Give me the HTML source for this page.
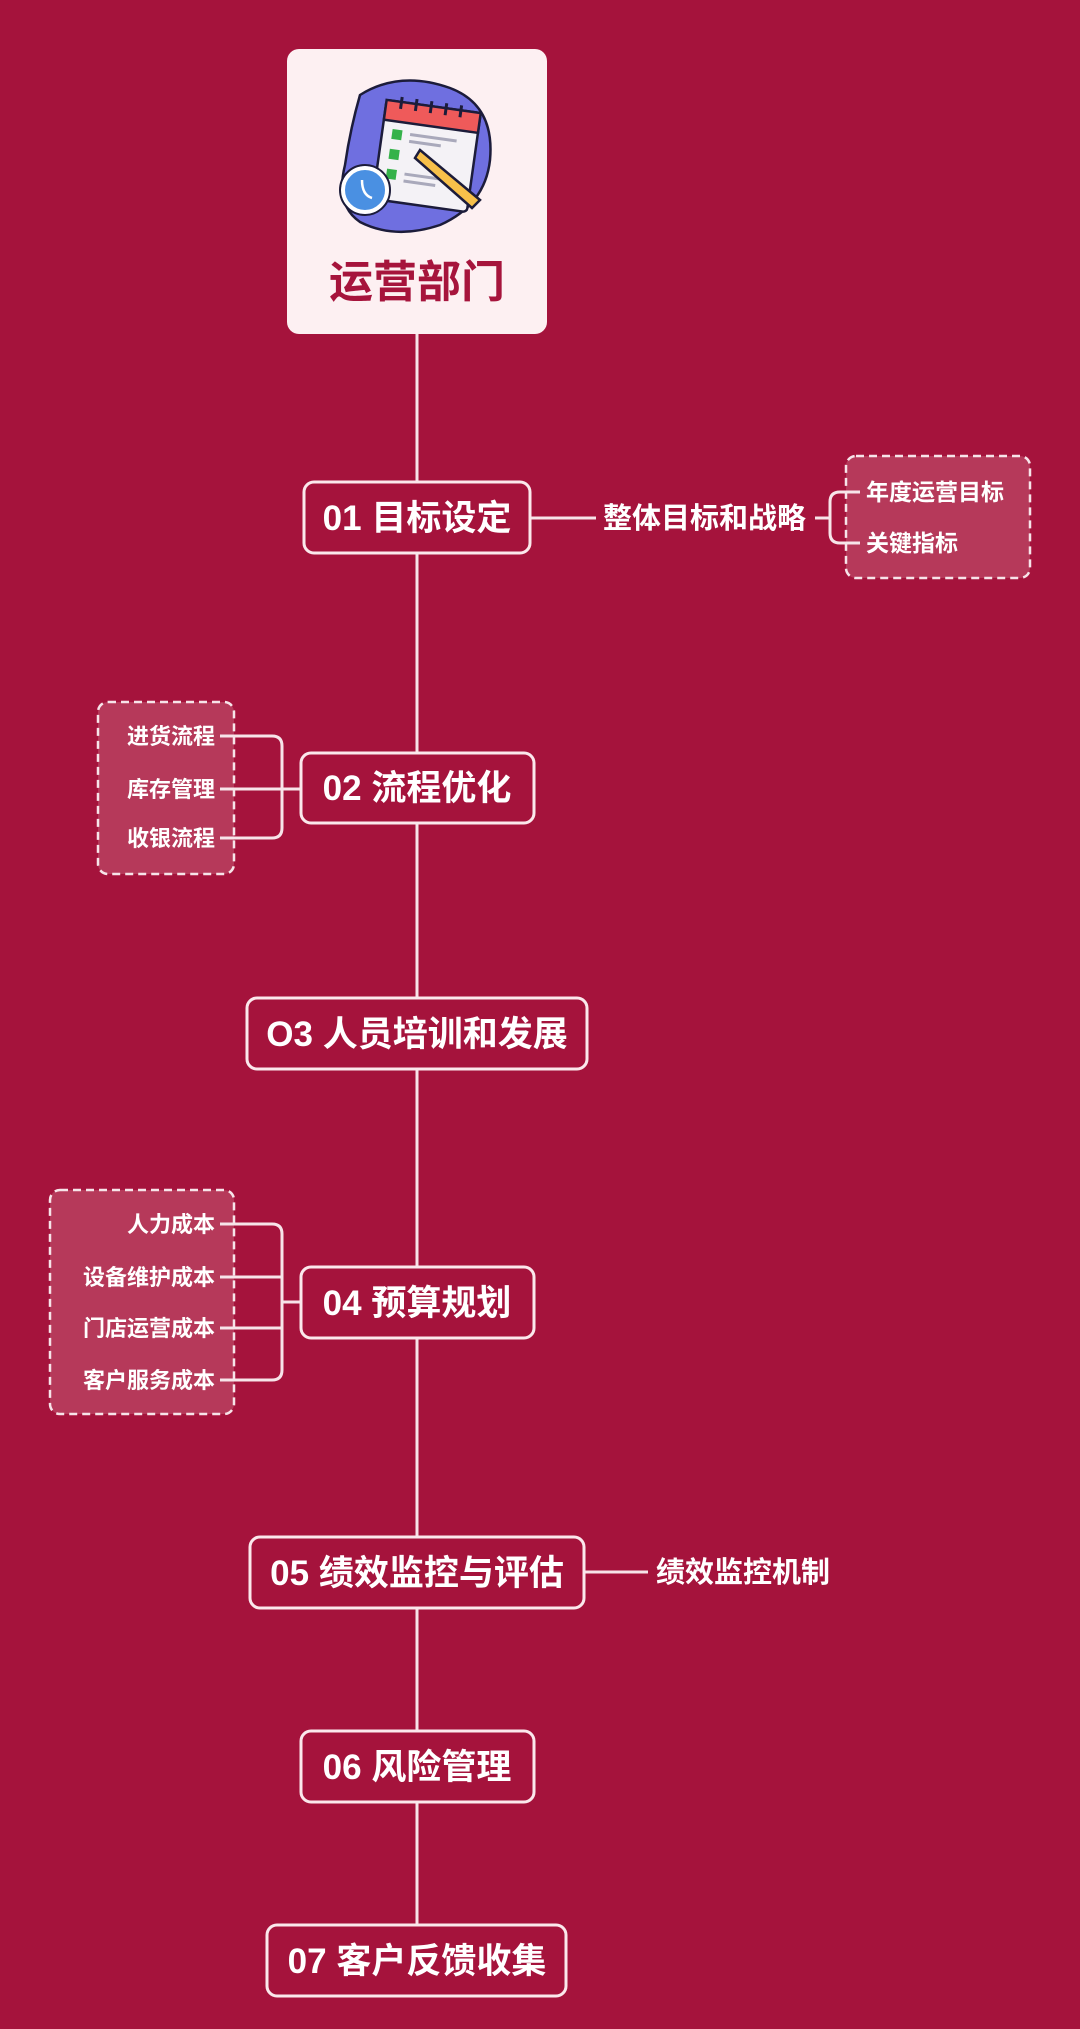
<!DOCTYPE html>
<html><head><meta charset="utf-8"><style>
html,body{margin:0;padding:0;background:#a5133c;}
svg{display:block}
text{font-family:"Liberation Sans","Noto Sans CJK SC",sans-serif;fill:#fff;}
</style></head><body>
<svg width="1080" height="2029" viewBox="0 0 1080 2029" xmlns="http://www.w3.org/2000/svg">
<rect width="1080" height="2029" fill="#a5133c"/>
<g stroke="#f7e4e9" stroke-width="3" fill="none">
<line x1="417" y1="334" x2="417" y2="1925"/>
<line x1="530" y1="518" x2="596" y2="518"/>
<line x1="815" y1="518" x2="830" y2="518"/>
<path d="M857 492 H840 Q830 492 830 502 V533 Q830 543 840 543 H857"/>
<path d="M222 736 H272 Q282 736 282 746 V828 Q282 838 272 838 H222"/>
<line x1="222" y1="789" x2="301" y2="789"/>
<path d="M222 1224 H272 Q282 1224 282 1234 V1370 Q282 1380 272 1380 H222"/>
<line x1="222" y1="1277" x2="282" y2="1277"/>
<line x1="222" y1="1328" x2="282" y2="1328"/>
<line x1="282" y1="1302" x2="301" y2="1302"/>
<line x1="584" y1="1572" x2="648" y2="1572"/>
</g>
<g fill="#b8415f" fill-opacity="0.85" stroke="#f7e4e9" stroke-width="2.5" stroke-dasharray="8 5">
<rect x="846" y="456" width="184" height="122" rx="10"/>
<rect x="98" y="702" width="136" height="172" rx="10"/>
<rect x="50" y="1190" width="184" height="224" rx="10"/>
</g>
<g stroke="#f7e4e9" stroke-width="3">
<line x1="840" y1="492" x2="860" y2="492"/><line x1="840" y1="543" x2="860" y2="543"/>
<line x1="220" y1="736" x2="240" y2="736"/><line x1="220" y1="789" x2="240" y2="789"/><line x1="220" y1="838" x2="240" y2="838"/>
<line x1="220" y1="1224" x2="240" y2="1224"/><line x1="220" y1="1277" x2="240" y2="1277"/><line x1="220" y1="1328" x2="240" y2="1328"/><line x1="220" y1="1380" x2="240" y2="1380"/>
</g>
<rect x="287" y="49" width="260" height="285" rx="12" fill="#fdf0f2"/>
<g>
<path d="M360 95 Q400 70 450 88 Q495 105 490 160 Q485 205 440 225 Q395 240 360 222 Q335 205 345 165 Q350 130 360 95Z" fill="#6f6fe0" stroke="#1c1c3a" stroke-width="2.5"/>
<g transform="rotate(8 420 150)">
<rect x="380" y="105" width="95" height="100" rx="4" fill="#f4f2f6" stroke="#1c1c3a" stroke-width="2.5"/>
<rect x="380" y="105" width="95" height="20" fill="#ef5a5a" stroke="#1c1c3a" stroke-width="2.5"/>
<g stroke="#1c1c3a" stroke-width="3"><line x1="395" y1="100" x2="395" y2="112"/><line x1="410" y1="100" x2="410" y2="112"/><line x1="425" y1="100" x2="425" y2="112"/><line x1="440" y1="100" x2="440" y2="112"/><line x1="455" y1="100" x2="455" y2="112"/></g>
<rect x="390" y="133" width="10" height="10" fill="#35b24a"/><rect x="390" y="153" width="10" height="10" fill="#35b24a"/><rect x="390" y="173" width="10" height="10" fill="#35b24a"/>
<g stroke="#a9a9bb" stroke-width="3"><line x1="408" y1="136" x2="455" y2="136"/><line x1="408" y1="143" x2="440" y2="143"/><line x1="408" y1="176" x2="450" y2="176"/><line x1="408" y1="183" x2="440" y2="183"/></g>
</g>
<path d="M420 150 L480 200 L472 208 L415 158Z" fill="#f7c04a" stroke="#1c1c3a" stroke-width="2.5"/>
<circle cx="365" cy="190" r="22" fill="#4a90e2" stroke="#fff" stroke-width="4"/>
<circle cx="365" cy="190" r="25" fill="none" stroke="#1c1c3a" stroke-width="2"/>
<path d="M362 180 Q362 195 372 198" stroke="#fff" stroke-width="2.5" fill="none"/>
</g>
<text x="417" y="297" font-size="44" font-weight="bold" text-anchor="middle" style="fill:#a6143c">运营部门</text>
<g fill="#a5133c" stroke="#fbe8ec" stroke-width="3">
<rect x="304" y="482" width="226" height="71" rx="10"/>
<rect x="301" y="753" width="233" height="70" rx="10"/>
<rect x="247" y="998" width="340" height="71" rx="10"/>
<rect x="301" y="1267" width="233" height="71" rx="10"/>
<rect x="250" y="1537" width="334" height="71" rx="10"/>
<rect x="301" y="1731" width="233" height="71" rx="10"/>
<rect x="267" y="1925" width="299" height="71" rx="10"/>
</g>
<g font-size="35" font-weight="bold" text-anchor="middle">
<text x="417" y="530">01 目标设定</text>
<text x="417" y="800">02 流程优化</text>
<text x="417" y="1046">O3 人员培训和发展</text>
<text x="417" y="1315">04 预算规划</text>
<text x="417" y="1585">05 绩效监控与评估</text>
<text x="417" y="1779">06 风险管理</text>
<text x="417" y="1973">07 客户反馈收集</text>
</g>
<g font-size="29" font-weight="bold">
<text x="603" y="528">整体目标和战略</text>
<text x="656" y="1582">绩效监控机制</text>
</g>
<g font-size="23" font-weight="bold">
<text x="866" y="500">年度运营目标</text>
<text x="866" y="551">关键指标</text>
</g>
<g font-size="22" font-weight="bold" text-anchor="end">
<text x="215" y="744">进货流程</text>
<text x="215" y="797">库存管理</text>
<text x="215" y="846">收银流程</text>
<text x="215" y="1232">人力成本</text>
<text x="215" y="1285">设备维护成本</text>
<text x="215" y="1336">门店运营成本</text>
<text x="215" y="1388">客户服务成本</text>
</g>
</svg>
</body></html>
